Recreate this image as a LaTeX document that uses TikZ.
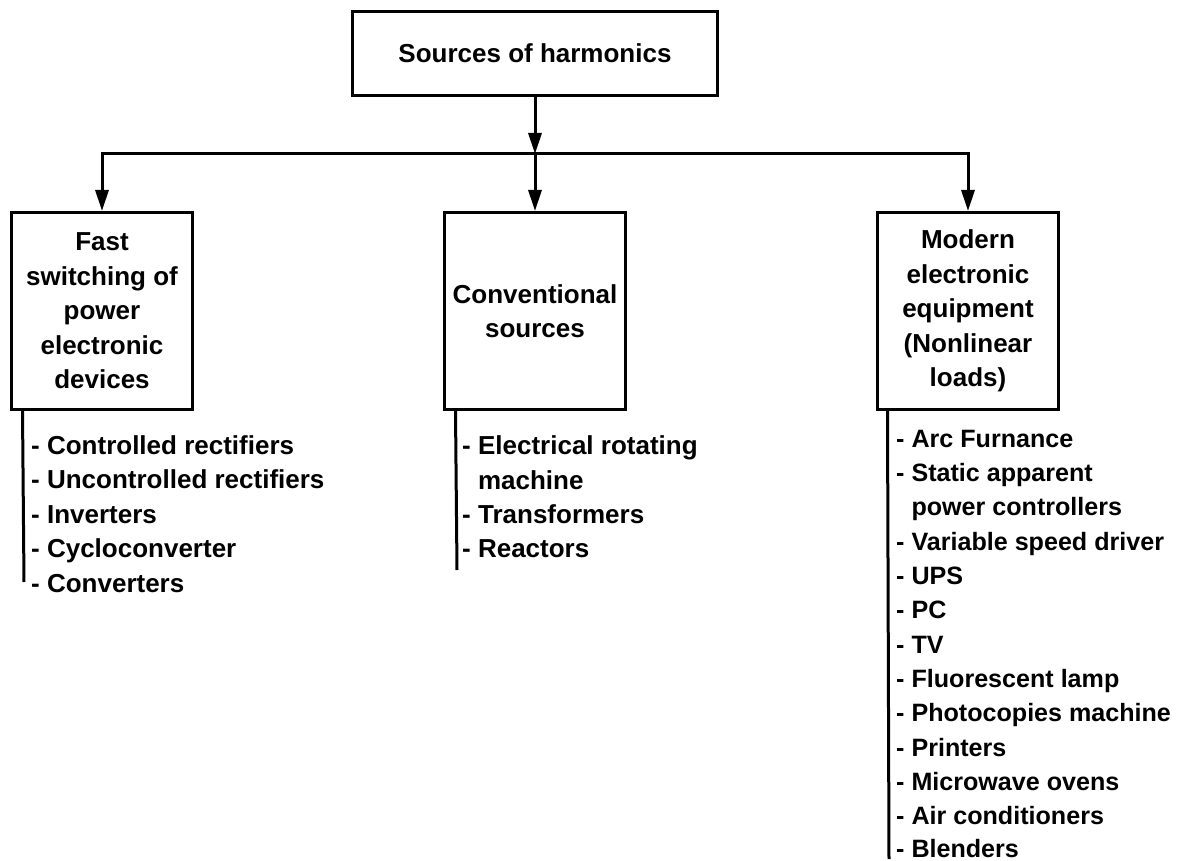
\documentclass[tikz,border=0pt]{standalone}
\usepackage{fontspec}
\setmainfont{Liberation Sans}
\usetikzlibrary{arrows.meta}
\begin{document}
\begin{tikzpicture}[x=1pt,y=-1pt,
  every node/.style={font=\fontsize{26}{34.5}\selectfont\bfseries, text=black},
  box/.style={draw, line width=3pt, rectangle, minimum width=181pt, minimum height=197pt, inner sep=0pt, align=center},
  item/.style={anchor=base west, inner sep=0pt},
  ritem/.style={item, font=\fontsize{25.1}{34.4}\selectfont\bfseries},
  conn/.style={line width=3pt},
  arr/.style={conn, -{Triangle[length=21pt,width=13pt]}},
  darr/.style={conn, {Triangle[length=21pt,width=13pt]}-{Triangle[length=21pt,width=13pt]}, line join=miter}]
\useasboundingbox (0,0) rectangle (1179,861);

% boxes
\node[box, minimum width=365pt, minimum height=84pt] (top) at (535,53.5) {Sources of harmonics};
\node[box] (L) at (102,311) {Fast\\switching of\\power\\electronic\\devices};
\node[box] (M) at (535,311) {Conventional\\sources};
\node[box] (R) at (968,311) {Modern\\electronic\\equipment\\(Nonlinear\\loads)};

% connectors
\coordinate (bus) at (535,154);
\draw[arr] (top.south) -- (bus);
\draw[darr] (L.north) -- (L.north |- bus) -- (R.north |- bus) -- (R.north);
\draw[arr] (bus) -- (M.north);

% list rails
\coordinate (Lend) at (24,582);
\coordinate (Mend) at (457,570);
\coordinate (Rend) at (889,859);
\draw[conn] ([xshift=12.5pt]L.south west) -- (Lend);
\draw[conn] ([xshift=12.5pt]M.south west) -- (Mend);
\draw[conn] ([xshift=11.5pt]R.south west) -- (Rend);

% left list
\node[item] (l1) at (31,454.3) {- Controlled rectifiers};
\node[item] (l2) at (31,488.8) {- Uncontrolled rectifiers};
\node[item] (l3) at (31,523.3) {- Inverters};
\node[item] (l4) at (31,557.8) {- Cycloconverter};
\node[item] (l5) at (31,592.3) {- Converters};

% middle list
\node[item] (m1) at (462,454.8) {- Electrical rotating};
\node[item] (m2) at (462,489.1) {\hphantom{- }machine};
\node[item] (m3) at (462,523.4) {- Transformers};
\node[item] (m4) at (462,557.7) {- Reactors};

% right list
\node[ritem] (r1)  at (896,447.3) {- Arc Furnance};
\node[ritem] (r2)  at (896,481.6) {- Static apparent};
\node[ritem] (r3)  at (896,515.9) {\hphantom{- }power controllers};
\node[ritem] (r4)  at (896,550.2) {- Variable speed driver};
\node[ritem] (r5)  at (896,584.5) {- UPS};
\node[ritem] (r6)  at (896,618.8) {- PC};
\node[ritem] (r7)  at (896,653.1) {- TV};
\node[ritem] (r8)  at (896,687.4) {- Fluorescent lamp};
\node[ritem] (r9)  at (896,721.7) {- Photocopies machine};
\node[ritem] (r10) at (896,756.0) {- Printers};
\node[ritem] (r11) at (896,790.3) {- Microwave ovens};
\node[ritem] (r12) at (896,824.4) {- Air conditioners};
\node[ritem] (r13) at (896,857.0) {- Blenders};
\end{tikzpicture}
\end{document}
